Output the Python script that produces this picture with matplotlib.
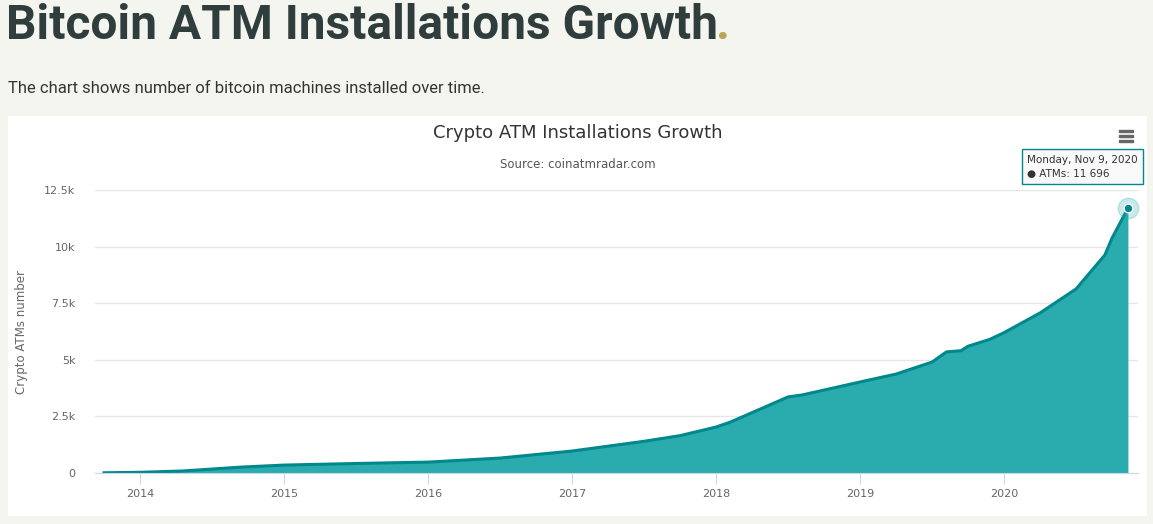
import matplotlib.pyplot as plt
from matplotlib.patches import Rectangle

# decimal year, installed ATMs
years = [2013.75, 2014.0, 2014.3, 2014.7, 2015.0, 2015.5, 2015.9, 2016.0, 2016.5,
         2017.0, 2017.5, 2017.75, 2018.0, 2018.1, 2018.5, 2018.6, 2019.0, 2019.25,
         2019.5, 2019.6, 2019.7, 2019.75, 2019.9, 2020.0, 2020.25, 2020.5, 2020.6,
         2020.7, 2020.75, 2020.86]
atms = [10, 30, 90, 260, 350, 420, 470, 480, 660, 970, 1400, 1650, 2030, 2250,
        3360, 3450, 4020, 4370, 4900, 5350, 5400, 5600, 5900, 6200, 7070, 8130,
        8880, 9630, 10380, 11696]
yticks = [0, 2500, 5000, 7500, 10000, 12500]
ytick_labels = ["0", "2.5k", "5k", "7.5k", "10k", "12.5k"]
xticks = [2014, 2015, 2016, 2017, 2018, 2019, 2020]

W, H = 1153, 524
fig = plt.figure(figsize=(W / 100, H / 100), dpi=100)
fig.patch.set_facecolor("#f5f5ef")
fig.patches.append(Rectangle((8 / W, 8 / H), 1139 / W, 400 / H, transform=fig.transFigure,
                             facecolor="white", edgecolor="none", zorder=-1))

fig.text(6 / W, 1 - 26 / H, "Bitcoin ATM Installations Growth", fontsize=34.5, fontweight="bold",
         family="Roboto", color="#2f3d3d", va="center")
fig.text(716 / W, 1 - 26 / H, ".", fontsize=34.5, fontweight="bold", family="Roboto",
         color="#b9a552", va="center")
fig.text(8 / W, 1 - 88 / H, "The chart shows number of bitcoin machines installed over time.",
         fontsize=12, family="Roboto", color="#333333", va="center")
fig.text(578 / W, 1 - 133 / H, "Crypto ATM Installations Growth", fontsize=13,
         family="DejaVu Sans", color="#333333", ha="center", va="center")
fig.text(578 / W, 1 - 165 / H, "Source: coinatmradar.com", fontsize=8.5,
         color="#555555", ha="center", va="center")

ax = fig.add_axes([95 / W, 51 / H, 1043 / W, 283 / H])
ax.set_facecolor("none")
ax.fill_between(years, atms, color="#2aabae", lw=0)
ax.plot(years, atms, color="#00888c", lw=2.2)
ax.set_xlim(2013.6875, 2020.93)
ax.set_ylim(0, 12500)
ax.set_yticks(yticks, ytick_labels)
ax.set_xticks(xticks, [str(x) for x in xticks])
ax.grid(axis="y", color="#e6e6e6", lw=1)
ax.set_axisbelow(True)
for s in ["top", "right", "left"]:
    ax.spines[s].set_visible(False)
ax.spines["bottom"].set_color("#ccd6eb")
ax.tick_params(axis="y", length=0, labelsize=8, colors="#666666", pad=14)
ax.tick_params(axis="x", length=8, color="#ccd6eb", labelsize=8, labelcolor="#666666")
ax.set_ylabel("Crypto ATMs number", fontsize=8.5, color="#666666", labelpad=12)

# highlighted last point with tooltip
ax.scatter([years[-1]], [atms[-1]], s=220, color="#2aabae", alpha=0.25, zorder=4, clip_on=False)
ax.scatter([years[-1]], [atms[-1]], s=40, color="#00888c", edgecolor="white", zorder=5, clip_on=False)
ax.annotate("Monday, Nov 9, 2020\n\u25cf ATMs: 11 696", (years[-1], atms[-1]),
            xytext=(-33, 30), textcoords="offset points", ha="center", va="center",
            multialignment="left", fontsize=7.5, color="#333333", linespacing=1.5,
            bbox=dict(boxstyle="square,pad=0.5", facecolor="#f9f9f9", edgecolor="#00888c"),
            annotation_clip=False, zorder=6)
# menu icon
for i in range(3):
    fig.patches.append(Rectangle((1119 / W, 1 - (132 + i * 5) / H), 14 / W, 2.5 / H,
                                 transform=fig.transFigure, color="#666666"))

fig.savefig("out.png", dpi=100, facecolor=fig.get_facecolor())
